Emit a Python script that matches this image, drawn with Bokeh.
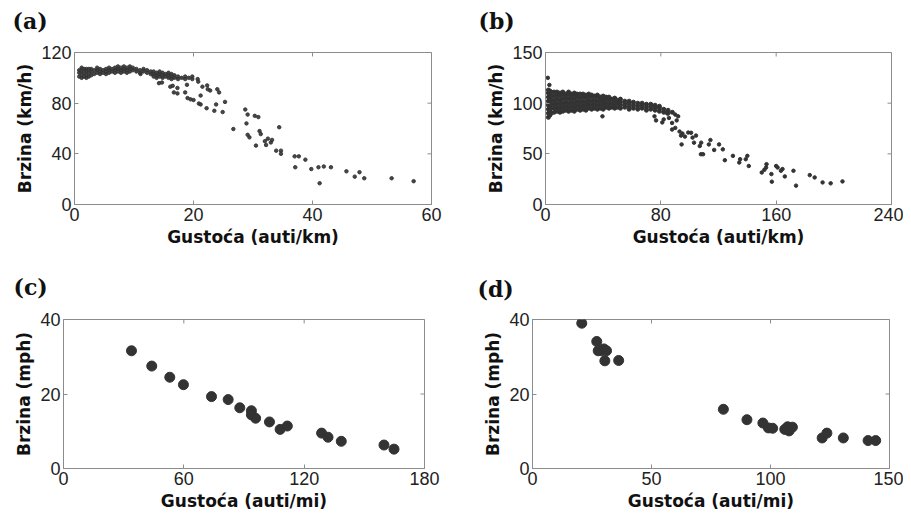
import math
from bokeh.plotting import figure
from bokeh.layouts import column, row
from bokeh.models import Range1d, FixedTicker
from bokeh.embed import file_html
from bokeh.resources import INLINE

# ---------------- data ----------------
# (a) dense cluster: (density, list of speeds)
a_cluster_cols = [
    (0.8, [101, 104, 106]), (1.2, [100, 103, 106, 108]), (1.6, [101, 104, 107]),
    (2.0, [100, 102, 105, 107]), (2.4, [101, 104, 107]), (2.8, [102, 105, 107]),
    (3.3, [103, 106]), (3.8, [104, 106, 108]), (4.3, [103, 105, 107]),
    (4.8, [104, 106]), (5.3, [103, 105, 107]), (5.8, [104, 106, 108]),
    (6.3, [105, 107]), (6.8, [104, 106, 108]), (7.3, [105, 107, 109]),
    (7.8, [104, 106, 108]), (8.3, [105, 107, 109]), (8.8, [104, 106, 108]),
    (9.3, [105, 107, 109]), (9.8, [106, 108]), (10.4, [105, 107]),
    (11.0, [104, 106]), (11.6, [105, 107]), (12.2, [104, 106]),
    (12.8, [103, 105]), (13.3, [101, 103, 105]), (13.8, [100, 102, 104]),
    (14.3, [101, 103, 105]), (14.8, [100, 102, 104]), (15.3, [101, 103]),
    (15.8, [100, 102, 104]), (16.3, [99, 101, 103]), (16.8, [100, 102]),
    (17.4, [99, 101]), (18.0, [100]), (18.6, [99, 101]), (19.2, [100]),
    (19.8, [99, 101]),
]
a_x = [11.1, 14.2, 14.7, 16.1, 17.3, 16.5, 16.7, 17.3, 18.6, 18.9, 19.0, 19.5, 20.0,
       20.7, 20.8, 21.2, 21.5, 21.2, 22.2, 20.9, 22.3, 22.4, 22.8, 24.0, 24.3, 23.5,
       23.8, 24.9, 25.3, 26.7, 28.7, 29.1, 28.9, 29.4, 29.1, 30.3, 30.9, 30.5, 31.1,
       31.3, 32.0, 32.5, 33.0, 32.2, 33.2, 34.4, 33.9, 34.7, 34.7, 37.0, 37.7, 37.1,
       38.8, 39.8, 41.2, 41.0, 41.9, 43.1, 45.7, 47.1, 47.9, 48.7, 53.3, 57.0]
a_y = [103, 95.8, 96.3, 93, 92, 93.7, 88.5, 87.7, 88.5, 94.5, 84, 83, 82.5,
       99, 97, 86, 93, 79, 76, 79.7, 94, 91, 90, 91, 88.5, 74,
       79, 73, 81, 59.6, 75, 71, 64, 53, 55, 70, 69, 46.5, 58,
       55.6, 50, 52, 49, 47, 51, 61, 42.5, 42.5, 40, 38, 38, 29.4,
       35.4, 28, 16.8, 29.4, 30, 29.4, 26.2, 22, 25.5, 20.7, 20.7, 18.4]

# (b) dense cluster: (density, list of speeds)
b_cluster_cols = [
    (2, [86, 90, 94, 98, 102, 106, 110, 113]), (3, [88, 92, 96, 100, 104, 108, 112]),
    (4, [90, 95, 99, 103, 107, 111]), (6, [91, 95, 99, 103, 107, 111]),
    (8, [92, 96, 100, 104, 108, 111]), (10, [91, 95, 99, 103, 107, 110]),
    (12, [92, 96, 100, 104, 108, 111]), (14, [93, 97, 101, 105, 109]),
    (16, [92, 96, 100, 104, 108, 111]), (18, [93, 97, 101, 105, 109]),
    (20, [92, 96, 100, 104, 108, 110]), (22, [94, 98, 102, 106, 109]),
    (24, [93, 97, 101, 105, 109]), (26, [94, 98, 102, 106, 109]),
    (28, [93, 97, 101, 105, 108]), (30, [95, 99, 103, 107, 109]),
    (32, [94, 98, 102, 106, 108]), (34, [95, 99, 103, 107]),
    (36, [94, 98, 102, 106, 108]), (38, [95, 99, 103, 106]),
    (40, [94, 98, 102, 105, 107]), (42, [96, 100, 104, 106]),
    (44, [95, 99, 103, 106]), (46, [96, 100, 104]),
    (48, [95, 98, 102, 105]), (50, [96, 100, 103]),
    (52, [95, 98, 101, 104]), (55, [96, 99, 102]),
    (58, [94, 97, 100, 102]), (61, [95, 98, 101]),
    (64, [94, 97, 100]), (67, [95, 98, 100]),
    (70, [93, 96, 99]), (73, [94, 97, 99]),
    (76, [93, 96, 98]), (79, [92, 95, 97]),
    (82, [91, 94]), (85, [90, 93]), (88, [91]),
]
b_x = [1.6, 2.7, 39.5, 75.6, 76.7, 81, 82, 85.6, 84.4, 90, 92, 91, 87.8, 87.8, 90,
       93, 95, 96.7, 94, 94.4, 101, 99, 102, 104.4, 103, 107, 108, 107.8, 109.3,
       113.3, 114.4, 117, 120.4, 123, 124.4, 130, 134.4, 135, 138.9, 140, 141,
       150, 151.8, 153.3, 153, 156.7, 157, 160, 161, 163.3, 164.4, 166, 172,
       173.8, 183.3, 186.7, 192.2, 197.8, 206]
b_y = [125, 118, 87, 87, 83, 81, 84, 85.4, 90, 88.7, 87, 83, 80.5, 74, 75.6,
       72, 70, 67, 68, 59.3, 70.8, 71, 66, 68, 61, 57.7, 61, 49.6, 49.6,
       59.3, 63.6, 53.8, 59.3, 54.4, 43.7, 48, 41.4, 44.7, 44.7, 48, 38,
       31.6, 34.2, 39.8, 36.5, 30, 22.5, 38, 36.5, 33.3, 35, 27.7, 33.3,
       18.6, 29, 26.7, 21.8, 20.9, 22.8]

# (c)
c_x = [33.9, 44.0, 53.0, 59.8, 73.8, 82.1, 87.9, 93.7, 93.7, 95.8, 102.7, 108.0,
       111.6, 128.7, 131.9, 138.5, 159.8, 164.8]
c_y = [31.6, 27.5, 24.5, 22.5, 19.3, 18.5, 16.3, 15.5, 14.4, 13.5, 12.5, 10.5,
       11.4, 9.5, 8.4, 7.3, 6.3, 5.2]

# (d)
d_x = [20.7, 27.0, 27.6, 29.0, 30.0, 31.1, 30.4, 36.2, 80.2, 90.1, 96.8, 99.1,
       100.9, 106.0, 107.2, 107.8, 109.2, 121.7, 123.7, 130.6, 141.0, 144.2]
d_y = [39.0, 34.1, 31.6, 31.6, 32.1, 31.6, 28.9, 29.0, 15.9, 13.1, 12.2, 10.9,
       10.8, 10.5, 11.2, 10.1, 11.1, 8.2, 9.5, 8.2, 7.5, 7.5]

# tick labels / ranges
a_xticks, a_yticks = [0, 20, 40, 60], [0, 40, 80, 120]
b_xticks, b_yticks = [0, 80, 160, 240], [0, 50, 100, 150]
c_xticks, c_yticks = [0, 60, 120, 180], [0, 20, 40]
d_xticks, d_yticks = [0, 50, 100, 150], [0, 20, 40]

x_lab_km, x_lab_mi = "Gustoća (auti/km)", "Gustoća (auti/mi)"
y_lab_kmh, y_lab_mph = "Brzina (km/h)", "Brzina (mph)"


def flatten(cols):
    xs, ys = [], []
    for x, yl in cols:
        for y in yl:
            xs.append(x)
            ys.append(y)
    return xs, ys


BOX = "#8c8c8c"
DOT = "#333333"


def style_axis(ax, ticks):
    ax.ticker = FixedTicker(ticks=ticks)
    ax.axis_line_color = BOX
    ax.major_tick_line_color = BOX
    ax.major_tick_in = 4
    ax.major_tick_out = 0
    ax.minor_tick_in = 0
    ax.minor_tick_out = 0
    ax.major_label_text_font = "Liberation Sans"
    ax.major_label_text_font_size = "18px"
    ax.major_label_text_color = "#222222"
    ax.major_label_standoff = 3
    ax.axis_label_text_font = "DejaVu Sans"
    ax.axis_label_text_font_style = "bold"
    ax.axis_label_text_font_size = "17px"
    ax.axis_label_text_color = "#111111"
    ax.axis_label_standoff = 3


def panel(label, offset, standoff, xr, yr, xt, yt, xlab, ylab, w, h, bl, br, bt, bb):
    p = figure(width=w, height=h, x_range=Range1d(*xr), y_range=Range1d(*yr),
               output_backend="svg", toolbar_location=None,
               min_border_left=bl, min_border_right=br,
               min_border_top=bt, min_border_bottom=bb,
               x_axis_label=xlab, y_axis_label=ylab, title=label,
               margin=(-16, 0, 0, 0))
    p.grid.visible = False
    p.outline_line_color = BOX
    p.background_fill_color = "white"
    p.border_fill_color = None
    style_axis(p.xaxis[0], xt)
    style_axis(p.yaxis[0], yt)
    # inward ticks on the top and right edges of the box (clipped to the frame)
    p.scatter(xt, [yr[1]] * len(xt), marker="dash", size=8, angle=math.pi / 2,
              line_color=BOX, line_width=1)
    p.scatter([xr[1]] * len(yt), yt, marker="dash", size=8, angle=0,
              line_color=BOX, line_width=1)
    t = p.title
    t.align = "left"
    t.offset = offset
    t.text_font = "DejaVu Serif"
    t.text_font_style = "bold"
    t.text_font_size = "22px"
    t.text_color = "#111111"
    t.standoff = standoff
    return p


pa = panel("(a)", -62, 38, (0, 60), (0, 120), a_xticks, a_yticks, x_lab_km,
           y_lab_kmh, 450, 272, 74, 19, 68, 52)
ax_c, ay_c = flatten(a_cluster_cols)
pa.scatter(ax_c, ay_c, size=3.5, color=DOT, alpha=0.9)
pa.scatter(a_x, a_y, size=3.5, color=DOT, alpha=0.9)

pb = panel("(b)", -67, 38, (0, 240), (0, 150), b_xticks, b_yticks, x_lab_km,
           y_lab_kmh, 453, 272, 95, 12, 68, 50)
bx_c, by_c = flatten(b_cluster_cols)
pb.scatter(bx_c, by_c, size=4, color=DOT)
pb.scatter(b_x, b_y, size=3.5, color=DOT)

pc = panel("(c)", -50, 40, (0, 180), (0, 40), c_xticks, c_yticks, x_lab_mi,
           y_lab_mph, 450, 273, 63, 26, 75, 44)
pc.scatter(c_x, c_y, size=10, color=DOT)

pd_ = panel("(d)", -55, 36, (0, 150), (0, 40), d_xticks, d_yticks, x_lab_mi,
            y_lab_mph, 453, 273, 82, 14, 79, 44)
pd_.scatter(d_x, d_y, size=10, color=DOT)

layout = column(row(pa, pb), row(pc, pd_))

with open("out.html", "w") as f:
    f.write(file_html(layout, INLINE))
